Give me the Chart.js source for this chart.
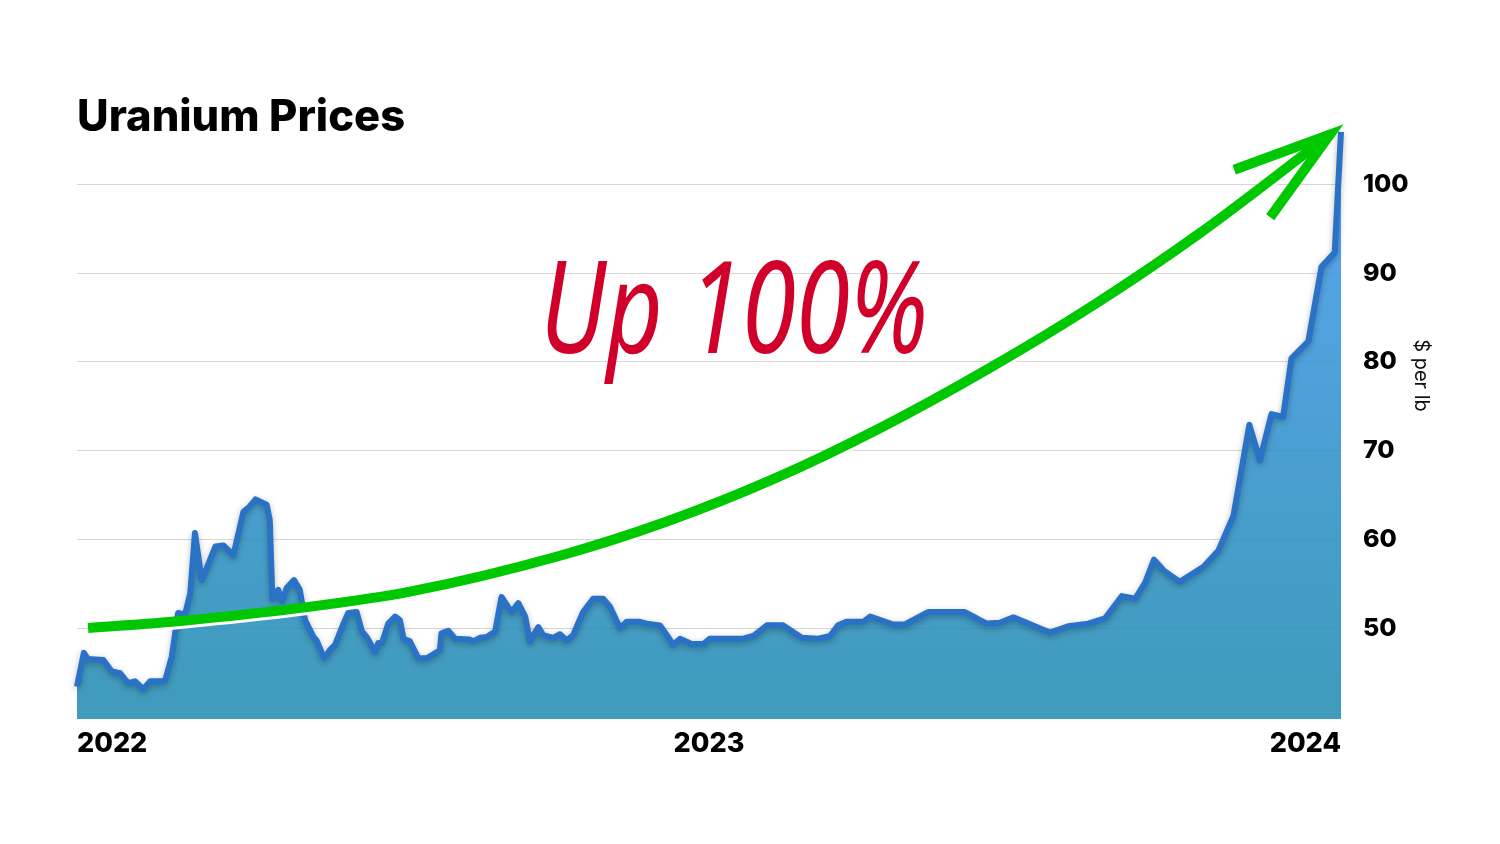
<!DOCTYPE html>
<html>
<head>
<meta charset="utf-8">
<title>Uranium Prices</title>
<script src="https://cdn.jsdelivr.net/npm/chart.js@4"></script>
<style>
  html, body { margin: 0; padding: 0; background: #fff; }
  #wrap { width: 1500px; height: 844px; position: relative; }
</style>
</head>
<body>
<div id="wrap"><canvas id="uranium"></canvas></div>
<script>
// x values are months counted from Jan 2022
var priceMonths = [0.00, 0.13, 0.21, 0.50, 0.66, 0.82, 0.97, 1.10, 1.26, 1.39, 1.67, 1.80, 1.92, 2.05, 2.15, 2.24, 2.37, 2.63, 2.78, 2.97,
  3.16, 3.28, 3.39, 3.60, 3.66, 3.71, 3.82, 3.90, 3.98, 4.12, 4.23, 4.33, 4.49, 4.55, 4.69, 4.80, 4.90, 5.06, 5.15, 5.31,
  5.41, 5.50, 5.66, 5.72, 5.79, 5.91, 6.04, 6.13, 6.20, 6.32, 6.48, 6.64, 6.89, 6.92, 7.05, 7.18, 7.46, 7.52, 7.65, 7.78,
  7.94, 8.06, 8.25, 8.38, 8.51, 8.60, 8.76, 8.85, 9.04, 9.17, 9.30, 9.42, 9.61, 9.80, 9.99, 10.12, 10.31, 10.44, 10.69, 10.82,
  11.07, 11.20, 11.32, 11.45, 11.67, 11.89, 12.02, 12.65, 12.84, 13.10, 13.41, 13.76, 14.08, 14.30, 14.45, 14.61, 14.93, 15.06, 15.50, 15.72,
  16.16, 16.86, 17.27, 17.52, 17.78, 18.47, 18.82, 19.20, 19.52, 19.84, 20.09, 20.28, 20.45, 20.63, 20.94, 21.39, 21.67, 21.96, 22.26, 22.46,
  22.68, 22.90, 23.06, 23.38, 23.63, 23.88, 24.00];
var priceValues = [43.4, 47.2, 46.5, 46.4, 45.1, 44.9, 43.8, 44.0, 43.1, 44.0, 44.0, 46.8, 51.7, 51.5, 53.9, 60.7, 55.4, 59.2, 59.3, 58.2,
  63.1, 63.7, 64.5, 63.9, 62.2, 53.3, 54.3, 53.0, 54.5, 55.4, 54.3, 50.9, 49.0, 48.6, 46.6, 47.5, 48.1, 50.5, 51.7, 51.8,
  49.6, 49.0, 47.3, 48.3, 48.3, 50.5, 51.3, 50.9, 48.8, 48.5, 46.6, 46.6, 47.5, 49.4, 49.7, 48.8, 48.7, 48.5, 48.9, 49.0,
  49.6, 53.5, 51.8, 52.8, 51.3, 48.5, 50.1, 49.2, 48.9, 49.3, 48.6, 49.2, 51.8, 53.3, 53.3, 52.4, 50.0, 50.7, 50.7, 50.5,
  50.3, 49.2, 48.1, 48.8, 48.2, 48.2, 48.8, 48.8, 49.1, 50.3, 50.3, 48.9, 48.8, 49.1, 50.3, 50.7, 50.7, 51.3, 50.4, 50.4,
  51.8, 51.8, 50.5, 50.6, 51.2, 49.5, 50.2, 50.5, 51.1, 53.6, 53.3, 55.1, 57.7, 56.5, 55.2, 56.9, 58.7, 62.7, 72.9, 68.9,
  74.1, 73.8, 80.4, 82.3, 90.7, 92.3, 105.9];

// hand drawn trend arrow
var trendMonths = [0.21, 1.96, 4.29, 6.32, 9.17, 11.20, 13.23, 15.27, 17.30, 19.33, 21.32, 23.79];
var trendValues = [50.0, 50.8, 52.3, 54.1, 58.15, 62.0, 66.8, 72.6, 79.2, 86.5, 94.5, 105.6];

var yearTicks  = [0, 12, 24];
var yearLabels = ['2022', '2023', '2024'];
var priceTicks = [50, 60, 70, 80, 90, 100];

var FONT = 'Inter, "Open Sans", sans-serif';

var pricePoints = priceMonths.map(function(m, i) { return { x: m, y: priceValues[i] }; });
var trendPoints = trendMonths.map(function(m, i) { return { x: m, y: trendValues[i] }; });

// shadow under the price line, white edge under the green arrow
var shadows = {
  id: 'shadows',
  beforeDatasetDraw: function(chart, args) {
    var ctx = chart.ctx;
    ctx.save();
    if (args.index === 0) {
      ctx.shadowColor = 'rgba(0,0,0,0.28)';
      ctx.shadowBlur = 6;
      ctx.shadowOffsetY = 2;
    } else {
      ctx.shadowColor = '#ffffff';
      ctx.shadowBlur = 0;
      ctx.shadowOffsetY = 3;
    }
  },
  afterDatasetDraw: function(chart) {
    chart.ctx.restore();
  }
};

// arrow head + texts
var notes = {
  id: 'notes',
  afterDatasetsDraw: function(chart) {
    var ctx = chart.ctx;
    var pts = chart.getDatasetMeta(1).data;
    var tip = pts[pts.length - 1];
    var prev = pts[pts.length - 2];
    var ang = Math.atan2(prev.y - tip.y, prev.x - tip.x);
    var spread = 17 * Math.PI / 180;
    var len = 102;
    ctx.save();
    ctx.strokeStyle = '#00c800';
    ctx.lineWidth = 10;
    ctx.lineJoin = 'miter';
    ctx.lineCap = 'butt';
    ctx.beginPath();
    ctx.moveTo(tip.x + len * Math.cos(ang - spread), tip.y + len * Math.sin(ang - spread));
    ctx.lineTo(tip.x, tip.y);
    ctx.lineTo(tip.x + len * Math.cos(ang + spread), tip.y + len * Math.sin(ang + spread));
    ctx.stroke();
    ctx.restore();
  },
  afterDraw: function(chart) {
    var ctx = chart.ctx;
    var area = chart.chartArea;
    ctx.save();
    // Up 100%
    ctx.fillStyle = '#d0002b';
    ctx.font = 'italic 400 128px "Noto Sans", sans-serif';
    ctx.textBaseline = 'alphabetic';
    var txt = 'Up 100%';
    var w = ctx.measureText(txt).width;
    ctx.translate(area.left + 463, area.top + 213);
    ctx.scale(388 / w, 1);
    ctx.fillText(txt, 0, 0);
    ctx.restore();

    // axis unit
    ctx.save();
    ctx.fillStyle = '#111';
    ctx.font = '20px ' + FONT;
    ctx.textAlign = 'center';
    ctx.textBaseline = 'middle';
    ctx.translate(1421, area.top + 236);
    ctx.rotate(Math.PI / 2);
    ctx.fillText('$ per lb', 0, 0);
    ctx.restore();
  }
};

var ctx = document.getElementById('uranium').getContext('2d');
var chart = new Chart(ctx, {
  type: 'line',
  data: {
    datasets: [{
      label: 'Uranium',
      data: pricePoints,
      order: 2,
      borderColor: '#2a72c6',
      borderWidth: 6,
      borderJoinStyle: 'round',
      pointRadius: 0,
      tension: 0,
      clip: false,
      fill: 'start',
      backgroundColor: function(context) {
        var a = context.chart.chartArea;
        if (!a) return 'rgba(30,137,176,0.85)';
        var g = context.chart.ctx.createLinearGradient(0, a.top, 0, a.bottom);
        g.addColorStop(0, 'rgba(62,150,240,0.85)');
        g.addColorStop(0.55, 'rgba(42,142,200,0.85)');
        g.addColorStop(1, 'rgba(30,137,176,0.85)');
        return g;
      }
    }, {
      label: 'Trend',
      data: trendPoints,
      order: 1,
      borderColor: '#00c800',
      borderWidth: 10,
      borderCapStyle: 'butt',
      cubicInterpolationMode: 'monotone',
      pointRadius: 0,
      clip: false,
      fill: false
    }]
  },
  options: {
    responsive: true,
    maintainAspectRatio: false,
    animation: false,
    layout: { padding: { left: 77, top: 0, right: 0, bottom: 0 } },
    plugins: {
      legend: { display: false },
      tooltip: { enabled: false },
      title: {
        display: true,
        text: 'Uranium Prices',
        align: 'start',
        color: '#000',
        font: { family: FONT, size: 43.5, weight: '800', lineHeight: 1 },
        padding: { top: 96, bottom: 0 }
      }
    },
    scales: {
      x: {
        type: 'linear',
        min: 0,
        max: 24,
        afterBuildTicks: function(axis) {
          axis.ticks = yearTicks.map(function(v) { return { value: v }; });
        },
        afterFit: function(axis) { axis.height = 125; },
        grid: { display: false, drawTicks: false },
        border: { display: false },
        ticks: {
          align: 'inner',
          autoSkip: false,
          maxRotation: 0,
          padding: 9,
          color: '#000',
          font: { family: FONT, size: 27, weight: '800' },
          callback: function(v) { return yearLabels[yearTicks.indexOf(v)]; }
        }
      },
      y: {
        position: 'right',
        min: 39.75,
        max: 105.05,
        afterBuildTicks: function(axis) {
          axis.ticks = priceTicks.map(function(v) { return { value: v }; });
        },
        afterFit: function(axis) { axis.width = 159; },
        grid: { color: '#d6d6d6', lineWidth: 1, drawTicks: false },
        border: { display: false },
        ticks: {
          padding: 22,
          color: '#000',
          font: { family: FONT, size: 25, weight: '800' }
        }
      }
    }
  },
  plugins: [shadows, notes]
});
</script>
</body>
</html>
